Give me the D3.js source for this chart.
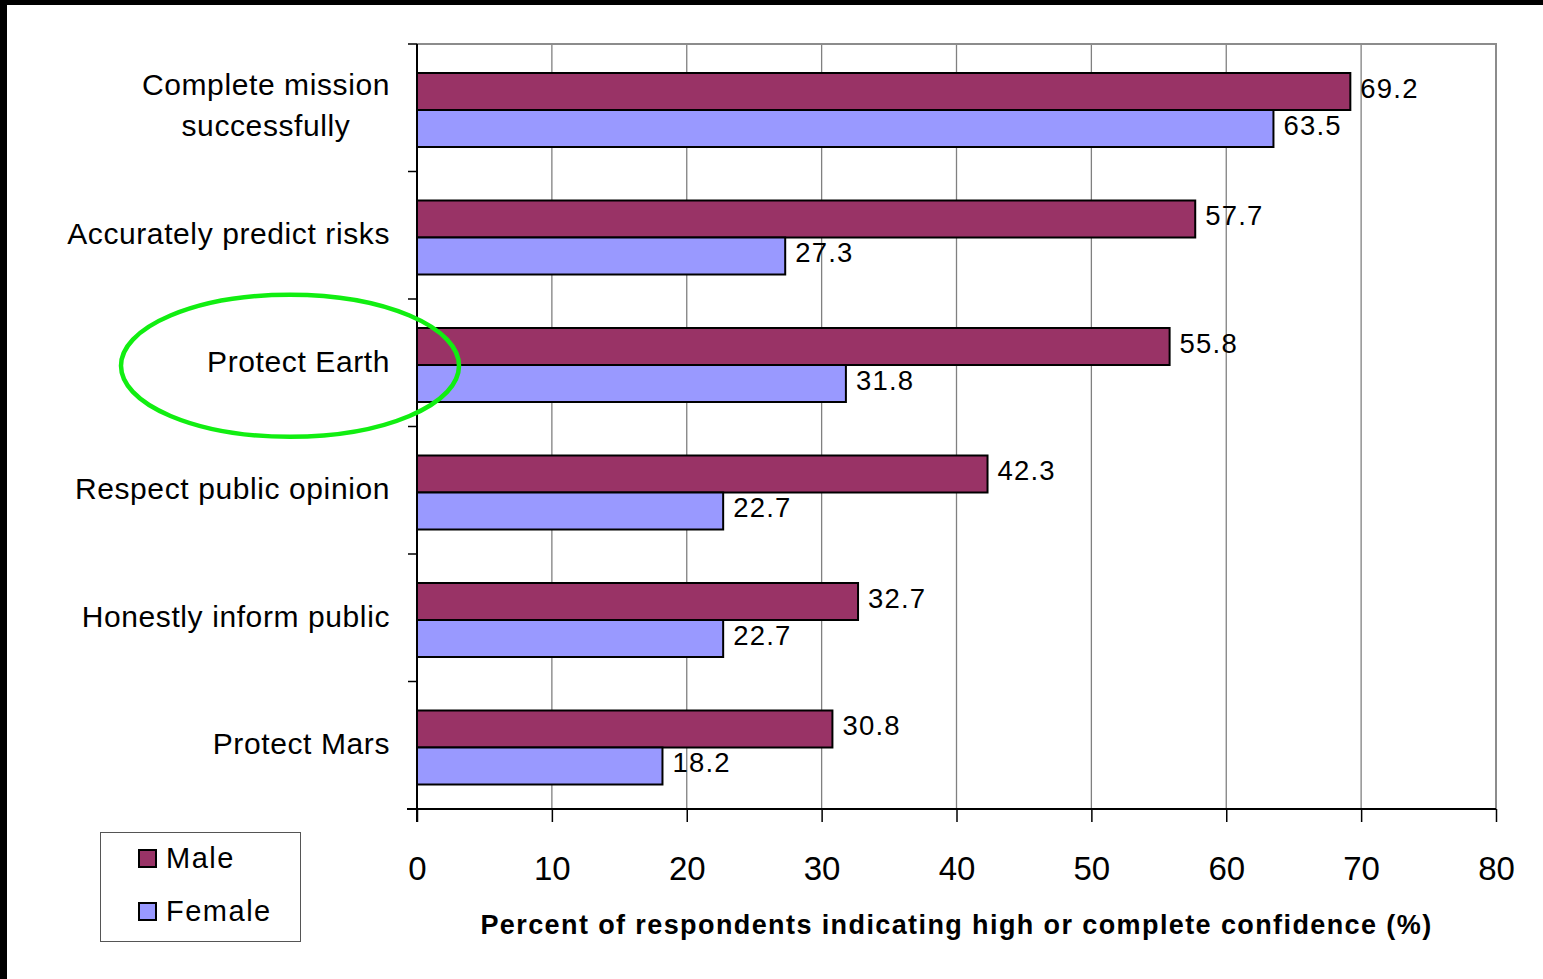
<!DOCTYPE html>
<html>
<head>
<meta charset="utf-8">
<script src="https://cdn.jsdelivr.net/npm/d3@7"></script>
<style>
  html, body { margin: 0; padding: 0; background: #fff; }
  svg { display: block; font-family: "Liberation Sans", Arial, sans-serif; }
</style>
</head>
<body>
<svg id="chart" width="1543" height="979"></svg>
<script>
// Confidence ratings by respondent gender
const categories = [
  "Complete mission\nsuccessfully",
  "Accurately predict risks",
  "Protect Earth",
  "Respect public opinion",
  "Honestly inform public",
  "Protect Mars"
];
const seriesNames = ["Male", "Female"];
const maleValues = [69.2, 57.7, 55.8, 42.3, 32.7, 30.8];
const femaleValues = [63.5, 27.3, 31.8, 22.7, 22.7, 18.2];
const xTickValues = [0, 10, 20, 30, 40, 50, 60, 70, 80];
const xAxisTitle = "Percent of respondents indicating high or complete confidence (%)";
const highlighted = "Protect Earth";

const colors = { Male: "#993366", Female: "#9999FF" };

const svg = d3.select("#chart");
const W = 1543, H = 979;
const plot = { left: 417, right: 1496, top: 44, bottom: 809 };

const x = d3.scaleLinear().domain([0, 80]).range([plot.left, plot.right]);
const y = d3.scaleBand().domain(categories).range([plot.top, plot.bottom]);
const ySeries = d3.scaleBand().domain(seriesNames).range([29, 103]);

const rows = categories.map((c, i) => ({
  category: c,
  values: [
    { series: "Male", value: maleValues[i] },
    { series: "Female", value: femaleValues[i] }
  ]
}));

// Frame edges
svg.append("rect").attr("x", 0).attr("y", 0).attr("width", W).attr("height", 5).attr("fill", "#000");
svg.append("rect").attr("x", 0).attr("y", 0).attr("width", 7).attr("height", H).attr("fill", "#000");

// Vertical gridlines
svg.append("g")
  .selectAll("line")
  .data(xTickValues.filter(v => v > 0 && v < 80))
  .join("line")
  .attr("x1", d => x(d)).attr("x2", d => x(d))
  .attr("y1", plot.top).attr("y2", plot.bottom)
  .attr("stroke", "#808080").attr("stroke-width", 1.3);

// Plot area top and right edge
svg.append("path")
  .attr("d", `M${plot.left},${plot.top}H${plot.right}V${plot.bottom}`)
  .attr("fill", "none").attr("stroke", "#8c8c8c").attr("stroke-width", 2);

// Bars
const groups = svg.append("g").selectAll("g")
  .data(rows)
  .join("g")
  .attr("transform", d => `translate(0,${y(d.category)})`);

groups.selectAll("rect")
  .data(d => d.values)
  .join("rect")
  .attr("x", x(0))
  .attr("y", d => ySeries(d.series))
  .attr("width", d => x(d.value) - x(0))
  .attr("height", ySeries.bandwidth())
  .attr("fill", d => colors[d.series])
  .attr("stroke", "#000")
  .attr("stroke-width", 2);

// Value labels
groups.selectAll("text")
  .data(d => d.values)
  .join("text")
  .attr("x", d => x(d.value) + 10)
  .attr("y", d => ySeries(d.series) + ySeries.bandwidth() / 2 + 6)
  .attr("font-size", 27.5)
  .attr("letter-spacing", 1.2)
  .attr("fill", "#000")
  .text(d => d.value.toFixed(1));

// X axis
const xAxis = svg.append("g")
  .attr("transform", `translate(0,${plot.bottom})`)
  .call(d3.axisBottom(x).tickValues(xTickValues).tickSize(13).tickPadding(35));
xAxis.select(".domain").attr("stroke", "#000").attr("stroke-width", 2)
  .attr("d", `M${plot.left - 10},0H${plot.right}`);
xAxis.selectAll(".tick line").attr("stroke", "#000").attr("stroke-width", 1.5);
xAxis.selectAll(".tick text")
  .attr("font-family", "'Liberation Sans', Arial, sans-serif")
  .attr("font-size", 33).attr("fill", "#000");

// Y axis (category boundaries)
const yBounds = categories.map(c => y(c)).concat([plot.bottom]);
svg.append("line")
  .attr("x1", plot.left).attr("x2", plot.left)
  .attr("y1", plot.top).attr("y2", plot.bottom + 13)
  .attr("stroke", "#000").attr("stroke-width", 2);
svg.append("g").selectAll("line")
  .data(yBounds)
  .join("line")
  .attr("x1", plot.left - 9).attr("x2", plot.left)
  .attr("y1", d => d).attr("y2", d => d)
  .attr("stroke", "#000").attr("stroke-width", 1.5);

// Category labels
const labelRight = 390;
const lineH = 41;
const catLabels = svg.append("g").attr("font-size", 30).attr("letter-spacing", 0.6).attr("fill", "#000");
categories.forEach(c => {
  const lines = c.split("\n");
  const cy = y(c) + y.bandwidth() / 2;
  const t = catLabels.append("text");
  lines.forEach((ln, i) => {
    t.append("tspan")
      .attr("y", cy + 9 - (lines.length - 1) * lineH / 2 - (lines.length - 1) * 1.5 + i * lineH)
      .text(ln);
  });
  if (lines.length === 1) {
    t.attr("text-anchor", "end").selectAll("tspan").attr("x", labelRight);
  } else {
    const widths = [];
    t.selectAll("tspan").each(function () { widths.push(this.getComputedTextLength()); });
    const maxW = d3.max(widths);
    t.attr("text-anchor", "middle").selectAll("tspan").attr("x", labelRight - maxW / 2);
  }
});

// Axis title
svg.append("text")
  .attr("x", (plot.left + plot.right) / 2)
  .attr("y", 934)
  .attr("text-anchor", "middle")
  .attr("font-size", 27)
  .attr("font-weight", "bold")
  .attr("letter-spacing", 1.4)
  .attr("fill", "#000")
  .text(xAxisTitle);

// Legend
const legend = svg.append("g");
legend.append("rect")
  .attr("x", 100.5).attr("y", 832.5).attr("width", 200).attr("height", 109)
  .attr("fill", "#fff").attr("stroke", "#555").attr("stroke-width", 1);
seriesNames.forEach((s, i) => {
  const ly = 850 + i * 53;
  legend.append("rect")
    .attr("x", 139).attr("y", ly).attr("width", 17).attr("height", 17)
    .attr("fill", colors[s]).attr("stroke", "#000").attr("stroke-width", 2);
  legend.append("text")
    .attr("x", 166).attr("y", ly + 18)
    .attr("font-size", 29).attr("letter-spacing", 1.5).attr("fill", "#000")
    .text(s);
});

// Highlight ring around one category
const hy = y(highlighted) + y.bandwidth() / 2;
svg.append("ellipse")
  .attr("cx", 290).attr("cy", hy + 3)
  .attr("rx", 169).attr("ry", 71)
  .attr("fill", "none")
  .attr("stroke", "#11ee11")
  .attr("stroke-width", 4.5);
</script>
</body>
</html>
